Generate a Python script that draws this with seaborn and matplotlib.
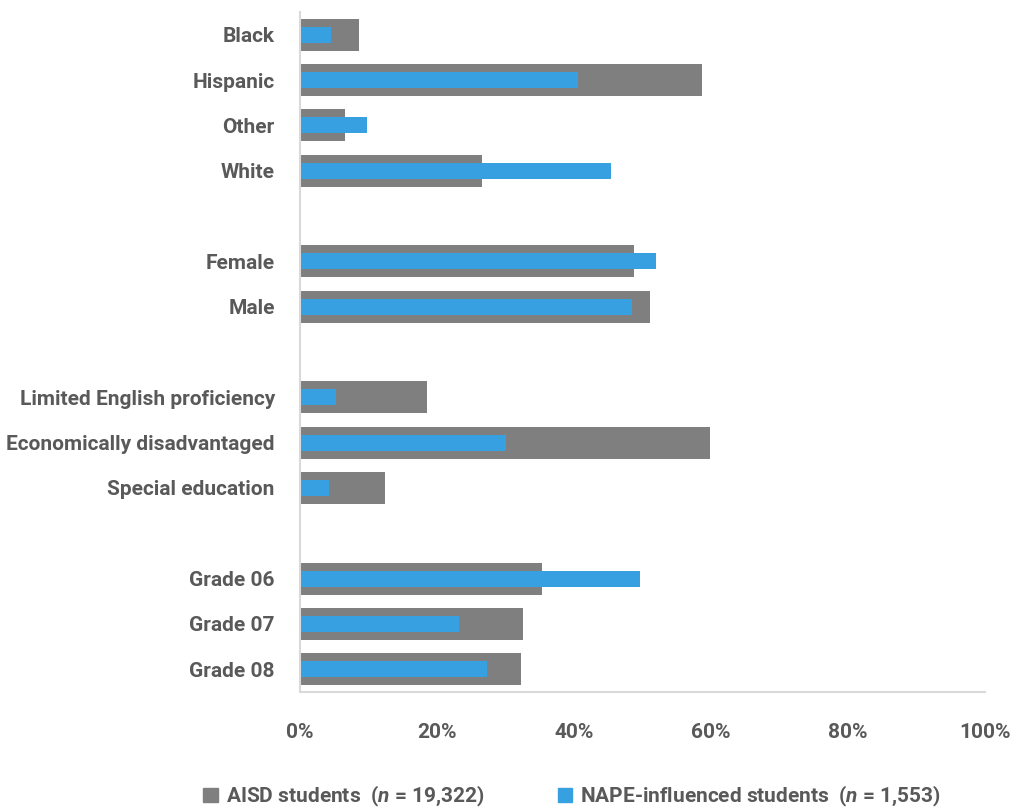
import matplotlib
matplotlib.use("Agg")
import matplotlib.pyplot as plt
import seaborn as sns
import pandas as pd
from matplotlib.patches import Patch
from matplotlib.ticker import PercentFormatter

# slots, blank names keep the gaps between groups
categories = ["Black", "Hispanic", "Other", "White", " ",
              "Female", "Male", "  ",
              "Limited English proficiency", "Economically disadvantaged", "Special education", "   ",
              "Grade 06", "Grade 07", "Grade 08"]

labels = ["Black", "Hispanic", "Other", "White",
          "Female", "Male",
          "Limited English proficiency", "Economically disadvantaged", "Special education",
          "Grade 06", "Grade 07", "Grade 08"]
aisd = [8.6, 58.7, 6.6, 26.6, 48.8, 51.2, 18.5, 59.9, 12.4, 35.3, 32.6, 32.3]
nape = [4.5, 40.6, 9.8, 45.4, 52.0, 48.5, 5.3, 30.1, 4.2, 49.6, 23.2, 27.3]

df = pd.DataFrame({"group": labels, "aisd": aisd, "nape": nape})

sns.set_style("white")
plt.rcParams['font.family'] = ['Roboto', 'DejaVu Sans']
plt.rcParams['font.weight'] = 'bold'
plt.rcParams['mathtext.fontset'] = 'custom'
plt.rcParams['mathtext.it'] = 'Roboto:italic:bold'

grey = "#7f7f7f"
blue = "#36a0e0"
txt = "#595959"

fig = plt.figure(figsize=(10.13, 8.08), dpi=100)
ax = fig.add_axes([0.296, 0.1436, 0.676, 0.8415])

sns.barplot(data=df, y="group", x="aisd", order=categories, color=grey,
            width=0.7, saturation=1, linewidth=0, ax=ax)
sns.barplot(data=df, y="group", x="nape", order=categories, color=blue,
            width=0.35, saturation=1, linewidth=0, ax=ax)

ax.set_xlim(0, 100)
ax.xaxis.set_major_formatter(PercentFormatter(decimals=0))
ax.set_xticks([0, 20, 40, 60, 80, 100])
ax.set_xlabel("")
ax.set_ylabel("")
ax.tick_params(axis="y", length=0, pad=18, labelsize=15, labelcolor=txt)
ax.tick_params(axis="x", length=0, pad=22, labelsize=15, labelcolor=txt)
for sp in ["top", "right"]:
    ax.spines[sp].set_visible(False)
for sp in ["left", "bottom"]:
    ax.spines[sp].set_color("#d9d9d9")
    ax.spines[sp].set_linewidth(1.5)

handles = [Patch(color=grey), Patch(color=blue)]
fig.legend(handles, [r"AISD students  ($n$ = 19,322)", r"NAPE-influenced students  ($n$ = 1,553)"],
           loc="lower center", bbox_to_anchor=(0.565, -0.024), ncol=2, frameon=False,
           fontsize=15, labelcolor=txt, handlelength=0.7, handleheight=0.7,
           handletextpad=0.4, columnspacing=3.5)

fig.savefig("out.png", dpi=100)
